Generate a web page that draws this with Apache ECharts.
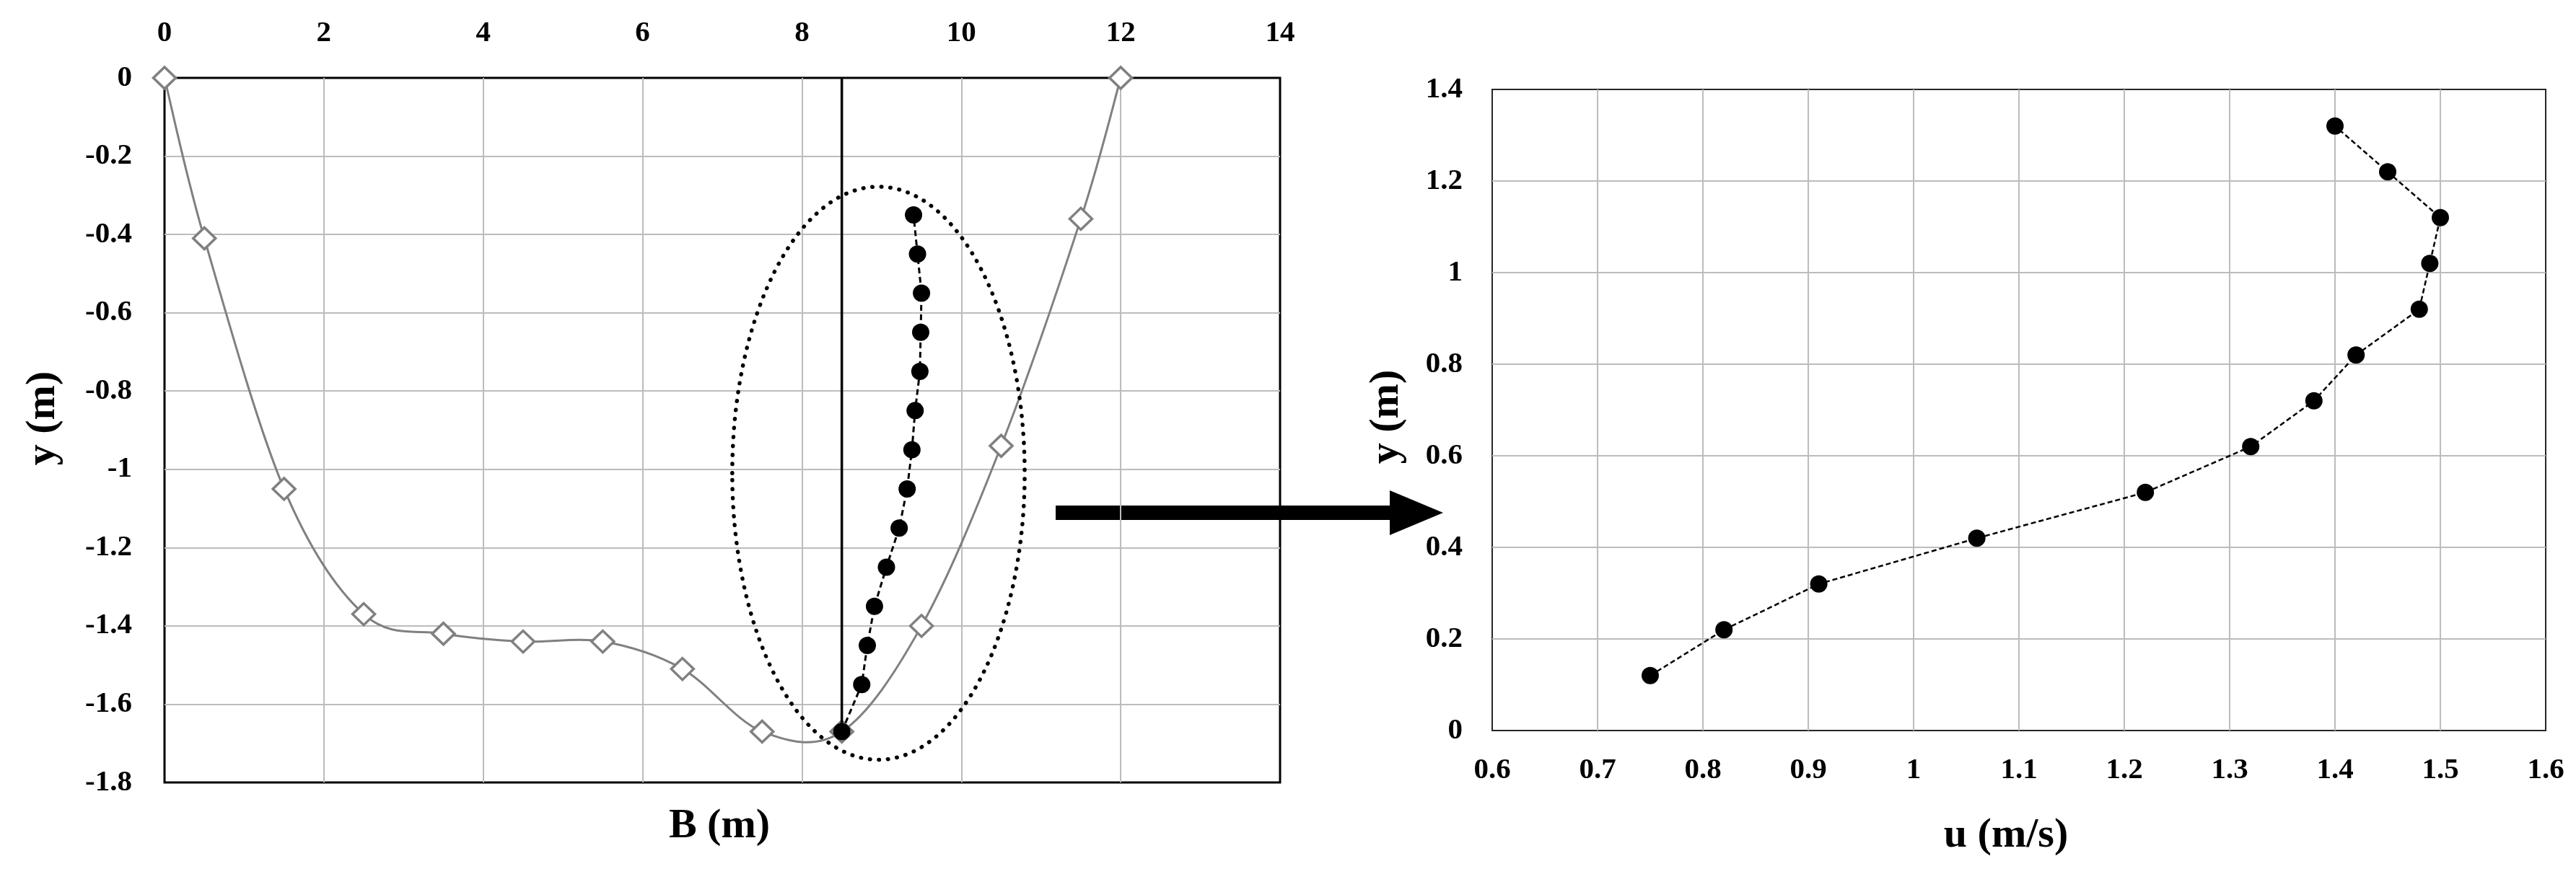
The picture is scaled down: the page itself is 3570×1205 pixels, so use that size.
<!DOCTYPE html>
<html>
<head>
<meta charset="utf-8">
<script src="https://cdn.jsdelivr.net/npm/echarts@6/dist/echarts.min.js"></script>
<style>
html,body{margin:0;padding:0;background:#ffffff;}
#chart{width:3570px;height:1205px;}
</style>
</head>
<body>
<div id="chart"></div>
<script>
// ---- Left chart: channel cross-section (B vs y) ----
const sectionB = [0, 0.5, 1.5, 2.5, 3.5, 4.5, 5.5, 6.5, 7.5, 8.5, 9.5, 10.5, 11.5, 12];
const sectionY = [0, -0.41, -1.05, -1.37, -1.42, -1.44, -1.44, -1.51, -1.67, -1.67, -1.40, -0.94, -0.36, 0];

// velocity profile drawn inside the cross-section
const profileB = [8.5, 8.75, 8.82, 8.91, 9.06, 9.22, 9.32, 9.38, 9.42, 9.48, 9.49, 9.50, 9.45, 9.40];
const profileY = [-1.67, -1.55, -1.45, -1.35, -1.25, -1.15, -1.05, -0.95, -0.85, -0.75, -0.65, -0.55, -0.45, -0.35];

// vertical measuring line
const verticalB = [8.5, 8.5];
const verticalY = [0, -1.67];

// dotted ellipse annotation: centre B, centre y, radius B, radius y
const ellipseB = [8.96];
const ellipseY = [-1.01];
const ellipseRB = [1.835];
const ellipseRY = [0.732];

// ---- Right chart: velocity profile (u vs y) ----
const velocityU = [0.75, 0.82, 0.91, 1.06, 1.22, 1.32, 1.38, 1.42, 1.48, 1.49, 1.50, 1.45, 1.40];
const velocityY = [0.12, 0.22, 0.32, 0.42, 0.52, 0.62, 0.72, 0.82, 0.92, 1.02, 1.12, 1.22, 1.32];

// axis ranges [min, max, interval]
const leftXRange = [0, 14, 2];
const leftYRange = [-1.8, 0, 0.2];
const rightXRange = [0.6, 1.6, 0.1];
const rightYRange = [0, 1.4, 0.2];

// texts
const leftXTitle = 'B (m)';
const leftYTitle = 'y (m)';
const rightXTitle = 'u (m/s)';
const rightYTitle = 'y (m)';

const zip = (a, b) => a.map((v, i) => [v, b[i]]);

const FONT = 'Liberation Serif';
const labelStyle = {fontFamily: FONT, fontWeight: 'bold', fontSize: 41, color: '#000', lineHeight: 41};
const gridLine = {show: true, showMinLine: false, showMaxLine: false, lineStyle: {color: '#bcbcbc', width: 2}};

const L = {left: 228, top: 108, width: 1546, height: 977};
const R = {left: 2068, top: 124, width: 1460, height: 889};

const titleText = (text, x, y, rot) => ({
  type: 'text', x: x, y: y, rotation: rot || 0,
  style: {text: text, fontFamily: FONT, fontWeight: 'bold', fontSize: 58, fill: '#000', align: 'center', verticalAlign: 'middle'}
});

// smooth (Catmull-Rom style) section curve, one bezier segment per data point
function renderSectionCurve(params, api) {
  const i = params.dataIndex;
  const n = sectionB.length;
  if (i >= n - 1) return null;
  const P = (k) => api.coord([sectionB[Math.max(0, Math.min(n - 1, k))], sectionY[Math.max(0, Math.min(n - 1, k))]]);
  const p0 = P(i - 1), p1 = P(i), p2 = P(i + 1), p3 = P(i + 2);
  const t = 1 / 6;
  return {
    type: 'bezierCurve',
    shape: {
      x1: p1[0], y1: p1[1], x2: p2[0], y2: p2[1],
      cpx1: p1[0] + (p2[0] - p0[0]) * t, cpy1: p1[1] + (p2[1] - p0[1]) * t,
      cpx2: p2[0] - (p3[0] - p1[0]) * t, cpy2: p2[1] - (p3[1] - p1[1]) * t
    },
    style: {fill: 'none', stroke: '#808080', lineWidth: 3}
  };
}

const option = {
  animation: false,
  backgroundColor: '#ffffff',
  grid: [
    Object.assign({show: true, borderColor: '#000', borderWidth: 3, backgroundColor: 'transparent'}, L),
    Object.assign({show: true, borderColor: '#262626', borderWidth: 2, backgroundColor: 'transparent'}, R)
  ],
  xAxis: [
    {type: 'value', gridIndex: 0, position: 'top', min: leftXRange[0], max: leftXRange[1], interval: leftXRange[2],
     axisLine: {show: false}, axisTick: {show: false}, splitLine: gridLine,
     axisLabel: Object.assign({margin: 41}, labelStyle)},
    {type: 'value', gridIndex: 1, position: 'bottom', min: rightXRange[0], max: rightXRange[1], interval: rightXRange[2],
     axisLine: {show: false}, axisTick: {show: false}, splitLine: gridLine,
     axisLabel: Object.assign({margin: 35}, labelStyle)}
  ],
  yAxis: [
    {type: 'value', gridIndex: 0, min: leftYRange[0], max: leftYRange[1], interval: leftYRange[2],
     axisLine: {show: false}, axisTick: {show: false}, splitLine: gridLine,
     axisLabel: Object.assign({margin: 45}, labelStyle)},
    {type: 'value', gridIndex: 1, min: rightYRange[0], max: rightYRange[1], interval: rightYRange[2],
     axisLine: {show: false}, axisTick: {show: false}, splitLine: gridLine,
     axisLabel: Object.assign({margin: 41}, labelStyle)}
  ],
  series: [
    {
      name: 'sectionCurve', type: 'custom', xAxisIndex: 0, yAxisIndex: 0, silent: true,
      data: zip(sectionB, sectionY), renderItem: renderSectionCurve, z: 2
    },
    {
      name: 'section', type: 'scatter', xAxisIndex: 0, yAxisIndex: 0,
      data: zip(sectionB, sectionY),
      symbol: 'diamond', symbolSize: [31, 30],
      itemStyle: {color: '#ffffff', borderColor: '#808080', borderWidth: 3.5, opacity: 1},
      z: 3
    },
    {
      name: 'vertical', type: 'line', xAxisIndex: 0, yAxisIndex: 0,
      data: zip(verticalB, verticalY), symbol: 'none',
      lineStyle: {color: '#000', width: 3.5}, z: 4
    },
    {
      name: 'ellipse', type: 'custom', xAxisIndex: 0, yAxisIndex: 0, silent: true, clip: false,
      data: ellipseB.map((b, i) => [b, ellipseY[i], ellipseRB[i], ellipseRY[i]]),
      renderItem: function (params, api) {
        const c = api.coord([api.value(0), api.value(1)]);
        const s = api.size([api.value(2), api.value(3)]);
        return {
          type: 'ellipse',
          shape: {cx: c[0], cy: c[1], rx: s[0], ry: s[1]},
          style: {fill: 'none', stroke: '#000', lineWidth: 5.5, lineDash: [0.5, 12], lineCap: 'round'}
        };
      },
      z: 4
    },
    {
      name: 'profileLeft', type: 'line', xAxisIndex: 0, yAxisIndex: 0,
      data: zip(profileB, profileY),
      symbol: 'circle', symbolSize: 24,
      lineStyle: {color: '#000', width: 3, type: [8, 5]},
      itemStyle: {color: '#000'}, z: 5
    },
    {
      name: 'profileRight', type: 'line', xAxisIndex: 1, yAxisIndex: 1,
      data: zip(velocityU, velocityY),
      symbol: 'circle', symbolSize: 24,
      lineStyle: {color: '#000', width: 2.5, type: [7, 4]},
      itemStyle: {color: '#000'}, z: 5
    }
  ],
  graphic: [
    titleText(leftXTitle, L.left + L.width / 2 - 4, 1146),
    titleText(leftYTitle, 60, 580, Math.PI / 2),
    titleText(rightXTitle, 2780, 1159),
    titleText(rightYTitle, 1922, 578, Math.PI / 2),
    {type: 'rect', shape: {x: 1463, y: 701, width: 465, height: 20}, style: {fill: '#000'}},
    {type: 'polygon', shape: {points: [[1926, 680], [2000, 711], [1926, 742]]}, style: {fill: '#000'}}
  ]
};

const chart = echarts.init(document.getElementById('chart'), null, {renderer: 'canvas'});
chart.setOption(option);
</script>
</body>
</html>
